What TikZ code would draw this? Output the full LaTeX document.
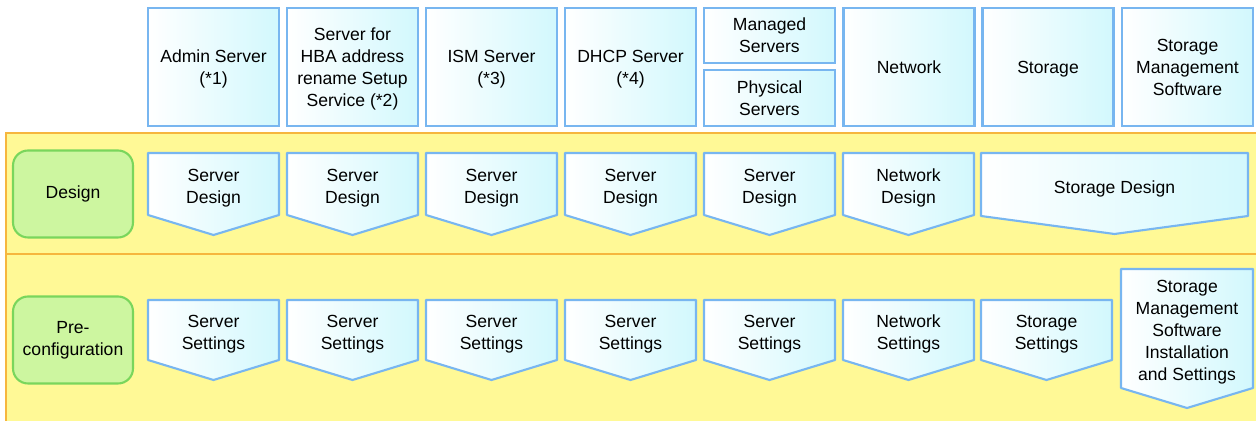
\documentclass[tikz,border=0pt]{standalone}
\usepackage{fontspec}
\setmainfont{Liberation Sans}
\definecolor{boxline}{RGB}{120,182,240}
\definecolor{boxfill}{RGB}{210,248,253}
\definecolor{bandfill}{RGB}{255,249,150}
\definecolor{bandline}{RGB}{246,182,62}
\definecolor{phasefill}{RGB}{205,246,160}
\definecolor{phaseline}{RGB}{122,214,92}
\tikzset{
  topbox/.style={draw=boxline, line width=1.2pt, left color=white, right color=boxfill,
    minimum width=2.62cm, minimum height=2.36cm, align=center, inner sep=1pt, text depth=-2pt},
  stepshape/.style={draw=boxline, line width=1.2pt, left color=white, right color=boxfill, line join=round},
  steptext/.style={align=center, inner sep=1pt},
  phasebox/.style={draw=phaseline, fill=phasefill, line width=1.2pt, rounded corners=0.3cm,
    minimum width=2.4cm, minimum height=1.74cm, align=center},
  band/.style={draw=bandline, fill=bandfill, line width=1.3pt}
}
% name, left, top, width, side height, point depth, text
\newcommand{\stepbox}[7]{%
  \draw[stepshape] (#2,#3) -- ++(#4,0) -- ++(0,#5) -- ++(-#4/2,#6) -- ++(-#4/2,-#6) -- cycle;
  \node[steptext] (#1) at (#2+#4/2,#3+#5/2+4) {#7};
}
\begin{document}
\begin{tikzpicture}[x=0.02cm, y=-0.02cm, font=\fontsize{10}{12.5}\selectfont]
		\useasboundingbox (0,0) rectangle (1256,421);
		% phase bands
		\draw[band] (6,133) rectangle (1270,254);
		\draw[band] (6,254) rectangle (1270,440);
		% header
		\node[topbox] (admin) at (213.5,67) {Admin Server\\(*1)};
		\node[topbox] (hba) at (352.5,67) {Server for\\HBA address\\rename Setup\\Service (*2)};
		\node[topbox] (ism) at (491.5,67) {ISM Server\\(*3)};
		\node[topbox] (dhcp) at (630.5,67) {DHCP Server\\(*4)};
		\node[topbox, minimum height=1.1cm] (managed) at (769.5,35.5) {Managed\\Servers};
		\node[topbox, minimum height=1.12cm] (physical) at (769.5,98) {Physical\\Servers};
		\node[topbox] (network) at (909,67) {Network};
		\node[topbox] (storage) at (1048,67) {Storage};
		\node[topbox] (sms) at (1187.5,67) {Storage\\Management\\Software};
		% design
		\node[phasebox] (design) at (73,194) {Design};
		\stepbox{admindesign}{148}{153}{131}{62}{20}{Server\\Design}
		\stepbox{hbadesign}{287}{153}{131}{62}{20}{Server\\Design}
		\stepbox{ismdesign}{426}{153}{131}{62}{20}{Server\\Design}
		\stepbox{dhcpdesign}{565}{153}{131}{62}{20}{Server\\Design}
		\stepbox{manageddesign}{704}{153}{131}{62}{20}{Server\\Design}
		\stepbox{networkdesign}{843}{153}{131}{62}{20}{Network\\Design}
		\stepbox{storagedesign}{981}{153}{267}{63}{18}{Storage Design}
		% pre-configuration
		\node[phasebox] (preconf) at (73,340) {Pre-\\configuration};
		\stepbox{adminsettings}{148}{300}{131}{60}{20}{Server\\Settings}
		\stepbox{hbasettings}{287}{300}{131}{60}{20}{Server\\Settings}
		\stepbox{ismsettings}{426}{300}{131}{60}{20}{Server\\Settings}
		\stepbox{dhcpsettings}{565}{300}{131}{60}{20}{Server\\Settings}
		\stepbox{managedsettings}{704}{300}{131}{60}{20}{Server\\Settings}
		\stepbox{networksettings}{843}{300}{131}{60}{20}{Network\\Settings}
		\stepbox{storagesettings}{981}{300}{131}{60}{20}{Storage\\Settings}
		\stepbox{smssettings}{1121}{269}{132}{119}{20}{Storage\\Management\\Software\\Installation\\and Settings}
\end{tikzpicture}
\end{document}
